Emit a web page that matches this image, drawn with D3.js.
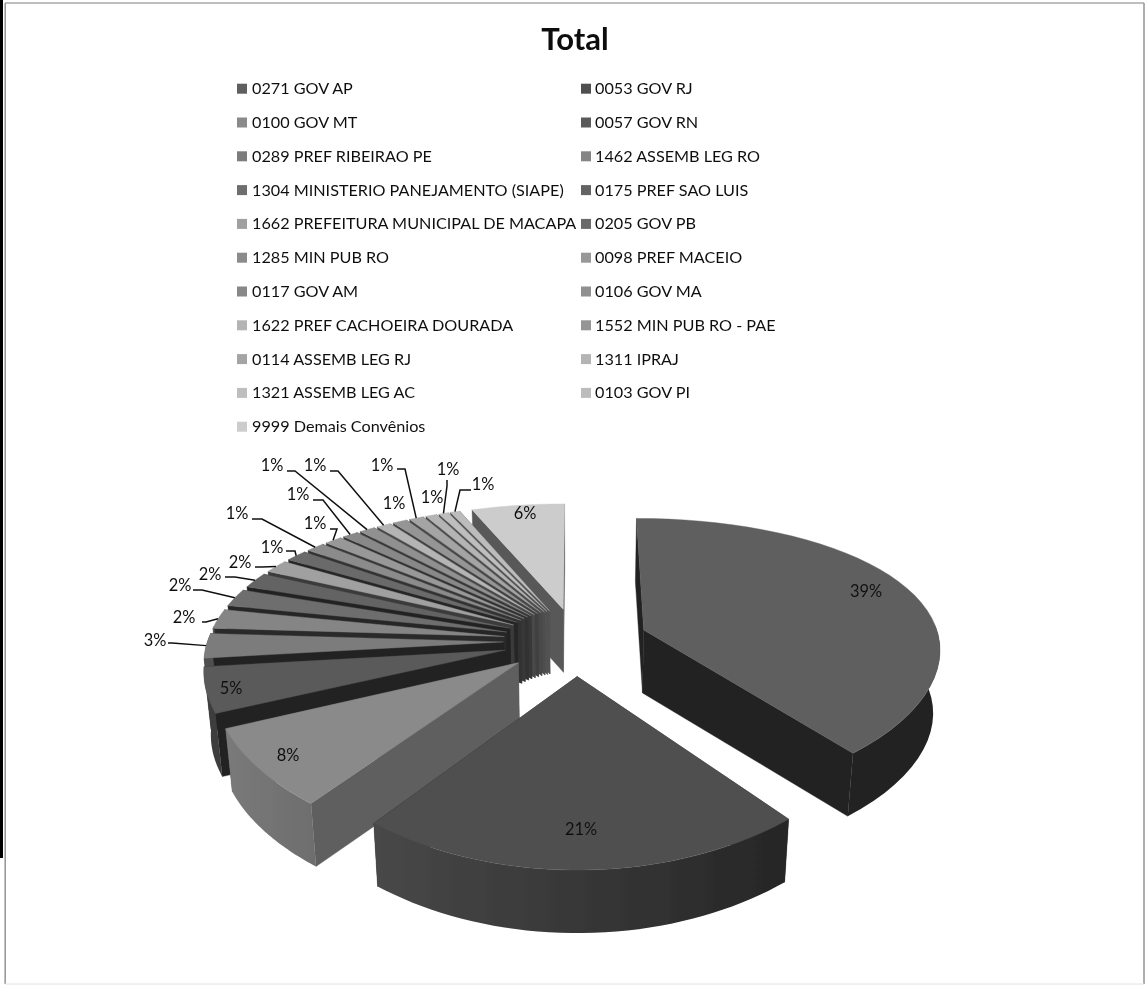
<!DOCTYPE html>
<html><head><meta charset="utf-8">
<script src="https://cdn.jsdelivr.net/npm/d3@7/dist/d3.min.js"></script>
<style>html,body{margin:0;padding:0;background:#fff}svg{display:block}text{font-family:Lato,"Open Sans",sans-serif;fill:#111}</style>
</head><body><svg id="c" width="1146" height="986"></svg>
<script>
const titleText = "Total";
const categories = ["0271 GOV AP","0053 GOV RJ","0100 GOV MT","0057 GOV RN","0289 PREF RIBEIRAO PE","1462 ASSEMB LEG RO","1304 MINISTERIO PANEJAMENTO (SIAPE)","0175 PREF SAO LUIS","1662 PREFEITURA MUNICIPAL DE MACAPA","0205 GOV PB","1285 MIN PUB RO","0098 PREF MACEIO","0117 GOV AM","0106 GOV MA","1622 PREF CACHOEIRA DOURADA","1552 MIN PUB RO - PAE","0114 ASSEMB LEG RJ","1311 IPRAJ","1321 ASSEMB LEG AC","0103 GOV PI","9999 Demais Convênios"];
const values = [39.2,21.0,8.0,4.9,2.8,2.3,2.1,1.9,1.6,1.4,1.2,1.1,1.0,1.0,0.9,0.9,0.9,0.7,0.6,0.6,5.8];
const pctLabels = ["39%","21%","8%","5%","3%","2%","2%","2%","2%","1%","1%","1%","1%","1%","1%","1%","1%","1%","1%","1%","6%"];
const topColors = ["#5f5f5f","#505050","#8a8a8a","#5a5a5a","#7c7c7c","#858585","#6e6e6e","#636363","#a0a0a0","#6a6a6a","#8b8b8b","#989898","#888888","#909090","#b4b4b4","#959595","#a4a4a4","#b4b4b4","#bebebe","#bcbcbc","#cccccc"];
const radialColors = ["#242424","#2b2b2b","#5f5f5f","#222222","#242424","#2a2a2a","#262626","#242424","#3a3a3a","#262626","#333333","#383838","#333333","#383838","#484848","#404040","#484848","#4e4e4e","#525252","#525252","#585858"];
const arcStartColors = ["#242424","#262626","#6e6e6e","#3d3d3d","#505050","#555555","#484848","#444444","#666666","#474747","#585858","#606060","#585858","#5c5c5c","#707070","#5e5e5e","#666666","#707070","#767676","#747474","#888888"];
const arcEndColors = ["#242424","#484848","#7a7a7a","#3d3d3d","#505050","#555555","#484848","#444444","#666666","#474747","#585858","#606060","#585858","#5c5c5c","#707070","#5e5e5e","#666666","#707070","#767676","#747474","#888888"];
// label placement of the original chart: [text centre x, y], leader stub start, leader elbow
const labelXY = [[866,591],[581,829],[288,755],[231,688],[155,640],[184,617],[180,585],[210,574],[240,562],[272,547],[237,513],[315,523],[298,494],[272,465],[315,465],[394,503],[382,465],[432,497],[448,469],[483,484],[525,513]];
const leaderStub = [null,null,null,null,[168,643],[202,622],[193,590],[225,577],[255,567],[286,551],[252,519],[330,529],[313,500],[287,471],[330,471],null,[397,469],null,[447,480],[471,490],null];
const leaderElbow = [null,null,null,null,[172,643],[206,622],[202,590],[235,577],[262,567],[295,551],[262,519],[337,529],[323,500],[295,471],[338,471],null,[405,469],null,[447,486],[460,490],null];
const legendRowStep = 33.8, legendTop = 88.7, legendColX = [237,581], legendTextGap = [15,14];

const svg=d3.select("#c");
const defs=svg.append("defs");
defs.append("filter").attr("id","soft").attr("x",0).attr("y",0).attr("width",1146).attr("height",986)
  .attr("filterUnits","userSpaceOnUse").append("feGaussianBlur").attr("stdDeviation",0.45);
const root=svg.append("g").attr("filter","url(#soft)");
root.append("rect").attr("width",1146).attr("height",986).attr("fill","#fff");
const cx=576, cy=641, R=302, explode=74, tilt=0.457, perspY=0.000665, perspX=0.0004, scaleX=0.98, lean=0.0003, depth=63;
const project=(X,Y,z=0)=>[cx+(1-lean*z)*scaleX*X/(1+perspX*Y), cy-Y*tilt/(1+perspY*Y)+z];
const pieData=d3.pie().sort(null).value(d=>d)(values);
const dir=a=>[Math.sin(a),Math.cos(a)];
const line=d3.line();

// frame
const frame=(x1,y1,x2,y2,c,w)=>root.append("line").attr("x1",x1).attr("y1",y1).attr("x2",x2).attr("y2",y2).attr("stroke",c).attr("stroke-width",w);
frame(5,3,1144,3,"#a8a8a8",1.6);
frame(5.2,3,5.2,984,"#9a9a9a",1.6);
frame(1144,3,1144,984,"#9a9a9a",1.6);
frame(5,984,1144,984,"#e2e2e2",1);
root.append("rect").attr("x",0).attr("y",0).attr("width",3).attr("height",858).attr("fill","#000");

root.append("text").attr("x",575).attr("y",50).attr("text-anchor","middle").attr("font-size",31).attr("font-weight",700).text(titleText);

const legendY=i=>legendTop+legendRowStep*Math.floor(i/2);
const legendX=i=>legendColX[i%2];
const lg=root.append("g");
lg.selectAll("rect").data(categories).join("rect").attr("x",(d,i)=>legendX(i)).attr("y",(d,i)=>legendY(i)-5).attr("width",10).attr("height",10).attr("fill",(d,i)=>topColors[i]);
lg.selectAll("text").data(categories).join("text").attr("x",(d,i)=>legendX(i)+legendTextGap[i%2]).attr("y",(d,i)=>legendY(i)+5.5).attr("font-size",16.2).text(d=>d);

function sliceGeom(d){
  const mid=(d.startAngle+d.endAngle)/2, [ox,oy]=dir(mid).map(v=>v*explode);
  const pt=(a,r,z=0)=>{const [s,c]=dir(a);return project(ox+r*s,oy+r*c,z)};
  const angles=d3.range(0,41).map(k=>d.startAngle+(d.endAngle-d.startAngle)*k/40);
  return {mid,pt,angles};
}
// painter's order: back to front, following the original stacking
const drawOrder=[20,19,18,17,16,15,14,13,12,11,10,9,8,7,6,5,4,3,0,2,1];
const pieG=root.append("g");
drawOrder.forEach(i=>{
  const d=pieData[i], g=sliceGeom(d), A=g.pt(0,0);
  const rad=a=>[g.pt(a,0),g.pt(a,R),g.pt(a,R,depth),g.pt(a,0,depth)];
  [d.startAngle,d.endAngle].forEach(a=>{
    pieG.append("path").attr("d",line(rad(a))+"Z").attr("fill",radialColors[i]).attr("stroke",radialColors[i]).attr("stroke-width",.4);
  });
  const front=g.angles.filter(a=>Math.cos(a)<=0.08);   // rear-facing rim is hidden
  if(front.length>1){
    const p0=g.pt(front[0],R), p1=g.pt(front[front.length-1],R), id="rim"+i;
    const grad=defs.append("linearGradient").attr("id",id).attr("gradientUnits","userSpaceOnUse")
      .attr("x1",p0[0]).attr("y1",0).attr("x2",p1[0]).attr("y2",0);
    grad.append("stop").attr("offset",0).attr("stop-color",arcStartColors[i]);
    grad.append("stop").attr("offset",1).attr("stop-color",arcEndColors[i]);
    pieG.append("path").attr("d",line(front.map(a=>g.pt(a,R)).concat(front.slice().reverse().map(a=>g.pt(a,R,depth))))+"Z").attr("fill",`url(#${id})`);
  }
  pieG.append("path").attr("d",line([A].concat(g.angles.map(a=>g.pt(a,R))))+"Z").attr("fill",topColors[i]).attr("stroke",topColors[i]).attr("stroke-width",.4);
});
// leaders
pieData.forEach((d,i)=>{
  if(!leaderStub[i])return;
  const g=sliceGeom(d);
  root.append("path").attr("d",line([leaderStub[i],leaderElbow[i],g.pt(g.mid,R)])).attr("fill","none").attr("stroke","#111").attr("stroke-width",1.5);
});
root.append("g").selectAll("text").data(pctLabels).join("text").attr("x",(d,i)=>labelXY[i][0]).attr("y",(d,i)=>labelXY[i][1]+5.5).attr("text-anchor","middle").attr("font-size",16.4).text(d=>d);
</script></body></html>
